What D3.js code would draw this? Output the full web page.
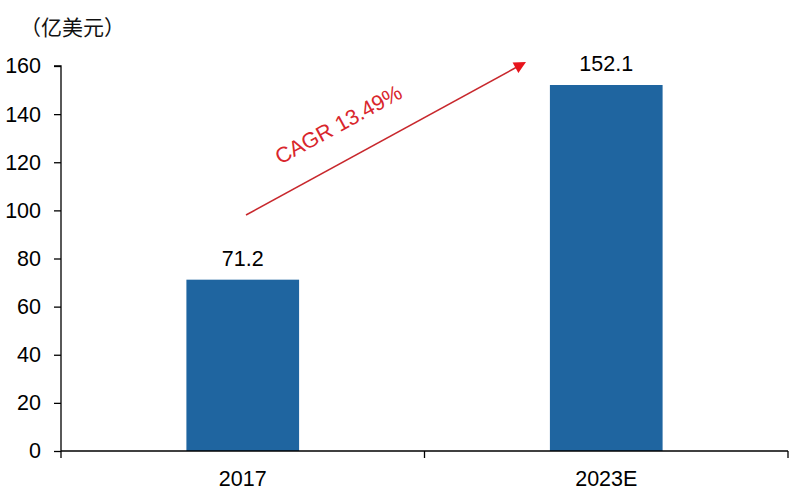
<!DOCTYPE html>
<html><head><meta charset="utf-8">
<script src="https://cdn.jsdelivr.net/npm/d3@7"></script>
<style>body{margin:0;background:#fff}svg{display:block}</style>
</head><body>
<svg id="c" width="800" height="493"></svg>
<script>
const categories = ["2017", "2023E"];
const values = [71.2, 152.1];
const yTicks = [0, 20, 40, 60, 80, 100, 120, 140, 160];
const unitLabel = "（亿美元）";
const cagrLabel = "CAGR 13.49%";

(function () {
const svg = d3.select("#c");
const font = "'Liberation Sans', Arial, sans-serif";
const pl = 61, pr = 788, pt = 66, pb = 451;
const fs = 21.5;

const x = d3.scaleBand().domain(categories).range([pl, pr]).paddingInner(0.69).paddingOuter(0.345);
const y = d3.scaleLinear().domain([0, 160]).range([pb, pt]);

// bars
svg.selectAll("rect.bar").data(values).enter().append("rect")
  .attr("x", (d, i) => x(categories[i]))
  .attr("y", d => y(d))
  .attr("width", x.bandwidth())
  .attr("height", d => pb - y(d))
  .attr("fill", "#1f65a0");

// y axis
const ya = svg.append("g").attr("transform", `translate(${pl},0)`)
  .call(d3.axisLeft(y).tickValues(yTicks).tickSize(7).tickPadding(13));
ya.select(".domain").attr("stroke", "#000").attr("stroke-width", 1.3).attr("d", `M-7,${pt}H0V${pb}`);
ya.selectAll(".tick line").attr("stroke", "#000").attr("stroke-width", 1.3);
ya.selectAll(".tick text").attr("font-family", font).attr("font-size", fs).attr("fill", "#000");

// x axis
const xa = svg.append("g").attr("transform", `translate(0,${pb})`)
  .call(d3.axisBottom(x).tickSize(0).tickPadding(20));
xa.select(".domain").attr("stroke", "#000").attr("stroke-width", 1.3).attr("d", `M${pl},0H${pr}`);
xa.selectAll(".tick text").attr("font-family", font).attr("font-size", fs).attr("fill", "#000");
const bounds = [pl, (pl + pr) / 2, pr];
xa.selectAll("line.sep").data(bounds).enter().append("line")
  .attr("x1", d => d).attr("x2", d => d).attr("y1", 0).attr("y2", 7)
  .attr("stroke", "#000").attr("stroke-width", 1.3);

// value labels
svg.selectAll("text.val").data(values).enter().append("text")
  .attr("x", (d, i) => x(categories[i]) + x.bandwidth() / 2)
  .attr("y", d => y(d) - 14)
  .attr("text-anchor", "middle")
  .attr("font-family", font).attr("font-size", fs).attr("fill", "#000")
  .text(d => d.toFixed(1));

// unit label
svg.append("text").attr("x", 20).attr("y", 35)
  .attr("font-family", "'Noto Sans CJK SC', sans-serif").attr("font-size", 21).attr("fill", "#111")
  .text(unitLabel);

// CAGR arrow
const ax1 = 246, ay1 = 215, ax2 = 526, ay2 = 62;
const ang = Math.atan2(ay2 - ay1, ax2 - ax1) * 180 / Math.PI;
svg.append("line").attr("x1", ax1).attr("y1", ay1).attr("x2", ax2 - 10).attr("y2", ay2 + 5.5)
  .attr("stroke", "#c8282d").attr("stroke-width", 1.5);
svg.append("path").attr("d", "M-12,-6L0,0L-12,6Z").attr("fill", "#e8141c")
  .attr("transform", `translate(${ax2},${ay2}) rotate(${ang})`);
svg.append("text").attr("transform", `translate(342,131) rotate(${ang})`)
  .attr("text-anchor", "middle")
  .attr("font-family", font).attr("font-size", 21.5).attr("fill", "#d9262c")
  .text(cagrLabel);
})();
</script>
</body></html>
